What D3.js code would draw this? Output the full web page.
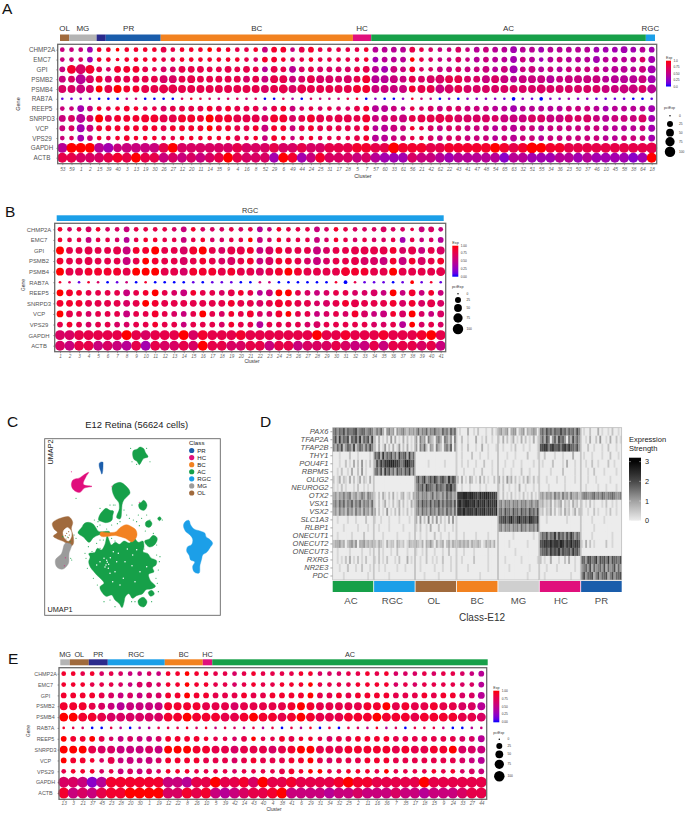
<!DOCTYPE html>
<html><head><meta charset="utf-8">
<script src="https://cdn.jsdelivr.net/npm/d3@7"></script>
<style>html,body{margin:0;padding:0;background:#fff}svg{display:block}text{font-family:"Liberation Sans",Arimo,Helvetica,sans-serif}</style>
</head><body>
<script>
// ---------- shared categories ----------
const genes = ["CHMP2A","EMC7","GPI","PSMB2","PSMB4","RAB7A","REEP5","SNRPD3","VCP","VPS29","GAPDH","ACTB"];
const classColors = {OL:"#a06a3c",MG:"#b4b4b4",PR:"#1a5dab",PRd:"#2a2a8c",BC:"#f28220",HC:"#e0107c",AC:"#17a049",RGC:"#1b9fe8"};
const pctTicks = [0,25,50,75,100];

// ---------- panel A (digit = expression in ninths; size digit = dot code) ----------
const aClusters = [53,59,1,2,15,39,40,3,13,19,30,26,27,12,20,11,14,35,9,4,16,8,52,29,6,49,44,24,25,31,17,28,5,7,57,60,33,61,56,21,42,62,22,43,41,47,48,54,65,63,32,51,55,34,36,23,50,37,46,10,45,58,38,64,18];
const aBands = [["OL",1],["MG",3],["PRd",1],["PR",6],["BC",21],["HC",2],["AC",30],["RGC",1]];
const aExp = [
"5 553 8898888 77888 98877 85885 78777 7 78 44447 76556 54544 34434 44443 33334 3",
"5 563 8888888 77888 88887 68886 78777 7 78 34449 76556 54544 35434 54443 44446 3",
"5 868 7688877 66777 77777 74774 67666 6 77 43558 66556 55545 35545 45555 44445 3",
"5 646 8677777 66777 77776 75775 67666 6 78 44557 66677 66565 45554 55555 44445 3",
"6 656 9798877 77777 77777 76776 77777 7 88 55558 77567 66666 66666 66666 55556 4",
"1 122 0004500 00687 65665 60063 06555 7 80 20028 54020 22221 02102 23221 11100 1",
"5 535 8788877 67777 87877 75785 67676 6 78 44547 66566 55544 34444 45554 34444 3",
"5 646 9788888 77888 98877 76886 78777 7 78 55657 77776 66665 55665 56665 45556 3",
"5 635 8888888 78888 98877 85885 78777 7 78 44558 76566 55545 45545 55555 44445 3",
"5 635 8788888 77888 88877 85885 78777 7 78 44557 76566 55545 45545 55555 44555 3",
"4 999 4355555 79666 66676 66766 76677 7 88 77988 87788 88898 78998 87777 77777 7",
"7 766 6787977 56565 67976 66398 35866 6 56 43336 55434 44442 44333 44343 33323 9"];
const aSize = [
"3 334 3323333 43333 33333 34443 44333 3 33 44444 33334 34444 54444 44444 44544 4",
"3 334 3323333 33333 33333 34433 33333 3 33 44443 33334 34444 54434 44445 44444 5",
"4 787 4355543 44555 44545 44545 44444 4 45 55544 33444 44545 64544 44444 45545 6",
"5 586 5555555 66565 55555 55665 56665 6 56 66655 56766 55666 56666 56666 56666 6",
"6 676 5665566 77666 66666 66676 76666 6 66 66665 66776 66666 66676 66666 66776 7",
"1 111 1111111 11111 11111 11111 11111 1 11 11111 11111 11111 21121 11111 11111 1",
"3 354 3334333 44444 44444 43444 33333 3 44 55433 34444 44444 54444 44444 44444 5",
"5 575 6555566 66665 66666 65665 56656 6 56 55565 66766 66656 66666 66565 55556 5",
"4 465 4444444 44444 44444 45444 44444 4 44 45543 34444 44444 54444 44444 44444 5",
"3 354 3334333 33333 33343 34433 33333 3 44 55443 34444 44444 54444 44444 44444 5",
"8 888 8878888 88888 88888 88888 88888 8 88 88988 88888 88888 88988 88888 88888 9",
"8 888 8888888 88888 88888 88888 88888 8 88 88888 88888 88888 88888 88888 88888 8"];

// ---------- panel B ----------
const bClusters = d3.range(1,42);
const bBands = [["RGC",41]];
const bExp = [
"86768 66577 77658 66676 74587 77568 76666 66756 5",
"87757 76478 87757 86677 95687 77568 76766 73756 4",
"97777 77588 97768 97677 85687 77567 77777 86757 6",
"87777 77579 87767 87667 85688 76567 77665 85867 8",
"97788 88799 97768 88787 76789 87777 88877 97777 7",
"86186 01508 00001 01110 05500 00008 07111 01918 1",
"98877 77578 97658 77678 74599 76567 76665 95858 5",
"88877 77679 87777 77787 76788 77667 87777 86867 6",
"97767 77577 87657 97687 86689 77567 68655 86965 6",
"78767 76677 87757 77687 74777 76677 77766 74967 6",
"66777 77976 77796 87778 77777 77977 87778 77789 7",
"65775 65473 76676 97766 77577 56667 65575 77767 5"];
const bSize = [
"33343 33433 33343 33333 34333 33433 33334 33244 3",
"33343 33433 33343 33333 34333 33433 33333 34333 4",
"65565 56655 65566 65566 55655 55655 56666 55655 6",
"55565 55655 55565 55565 55655 55655 56666 56565 5",
"66666 66666 66666 66666 66666 66666 76666 66666 7",
"11111 11111 11111 11111 11111 11111 21111 11211 1",
"55444 44544 54454 44454 44555 44444 44454 54544 4",
"55555 55555 55555 55555 55565 55455 56555 55556 5",
"55444 44544 54444 54444 54454 44444 45545 45544 5",
"44444 44444 44444 44444 45444 44544 44444 45444 4",
"88888 88888 88888 88888 88888 88888 88888 88888 8",
"88888 88888 88888 88888 88888 88888 88888 88888 8"];

// ---------- panel E ----------
const eClusters = [13,3,21,37,45,23,28,20,30,1,19,12,22,8,26,10,5,39,42,14,43,40,4,38,41,6,29,31,34,32,25,2,11,16,36,7,35,17,18,15,9,24,33,27,44];
const eBands = [["MG",1],["OL",2],["PRd",2],["RGC",6],["BC",4],["HC",1],["AC",29]];
const eExp = [
"88786 76556 58898 87767 87777 88666 77878 66676 77654",
"88877 76566 68898 87767 87788 89777 78888 67677 77664",
"88887 65656 68898 87778 77888 89778 78888 77787 88664",
"88876 54555 58888 77767 77778 98777 77889 78778 77664",
"99887 66666 68898 88778 98878 98777 88898 88788 88776",
"87600 74034 77786 85765 74707 48070 76584 60777 50045",
"98897 65655 68888 87767 97787 88767 78888 77777 77664",
"99976 65556 59998 87767 77678 99777 88888 78778 89665",
"98886 75555 68888 77767 87778 89767 77888 77777 77654",
"78886 75656 68887 77767 77778 89977 88879 77778 78665",
"66524 88888 85547 79778 69778 77778 98877 77797 77777",
"85657 88999 96687 85456 77895 55545 56555 65545 55677"];
const eSize = [
"33333 33333 33333 33333 33333 33333 33333 33333 33334",
"33333 33344 33333 33333 33333 33333 33333 33333 33334",
"44444 44444 44444 44444 44444 44444 44444 44444 44445",
"66655 56666 66666 66666 66666 66666 66666 66666 66666",
"77777 77777 77777 77777 77777 77777 77777 77777 77777",
"11111 11111 11111 11111 11111 11111 11111 11111 11111",
"44444 34444 44444 33334 33344 33344 44444 44444 44445",
"66666 66666 66666 66666 66666 66666 66666 66666 66666",
"44433 54545 44444 44444 44444 44444 44444 44444 44445",
"33333 34444 33333 33333 33344 33333 33333 33333 33344",
"99999 99999 99999 99999 99999 99999 99999 99999 99999",
"99999 99999 99999 99999 99999 99999 99999 99999 99999"];

// ---------- panel C: regions of the UMAP cloud, in read-off UMAP units ----------
const umapAC = [
 [[322,393],[328,408],[334,420],[346,412],[358,418],[372,408],[388,414],[403,400],[415,412],[428,408],[432,425],[429,440],[444,446],[452,458],[470,468],[468,480],[458,488],[462,500],[446,508],[450,525],[466,545],[452,552],[438,554],[428,566],[410,572],[398,580],[386,566],[376,575],[372,592],[366,608],[358,596],[345,585],[335,570],[318,574],[308,565],[300,545],[312,535],[303,522],[290,510],[280,498],[272,488],[266,470],[270,455],[266,447],[285,442],[292,430],[304,435],[314,420]],
 [[400,137],[412,132],[420,126],[432,132],[436,142],[444,156],[432,160],[426,167],[418,179],[410,168],[403,164],[398,150]],
 [[338,242],[350,234],[360,232],[378,243],[386,252],[390,264],[380,276],[372,284],[366,300],[365,316],[358,342],[352,340],[358,310],[356,292],[346,280],[340,268]],
 [[298,332],[308,318],[318,310],[330,316],[340,318],[338,332],[336,345],[316,353],[306,350],[296,346]],
 [[417,296],[424,292],[430,286],[441,300],[432,316],[420,312]],
 [[437,352],[448,346],[456,356],[448,367],[438,364]],
 [[473,340],[479,335],[484,341],[478,347]],
 [[434,408],[448,402],[460,391],[471,398],[463,420],[448,426],[438,418]],
 [[234,384],[246,366],[252,356],[265,352],[280,358],[286,366],[294,378],[330,383],[330,388],[296,390],[280,398],[268,412],[250,396]],
 [[414,588],[430,577],[441,590],[431,606],[418,601]],
 [[445,562],[455,556],[463,567],[452,574]]
];
const umapBC = [[[300,385],[330,383],[348,380],[360,368],[380,359],[396,366],[407,374],[411,390],[396,411],[376,400],[350,392],[300,388]]];
const umapOL = [[[157,355],[170,344],[183,339],[208,336],[218,352],[214,370],[220,396],[218,420],[206,426],[195,412],[172,402],[160,394],[172,382],[162,372]]];
const umapOLHole = [[[190,378],[204,368],[212,376],[214,395],[205,408],[193,398]]];
const umapMG = [[[198,414],[213,418],[207,446],[204,478],[186,493],[171,487],[166,466],[184,446]]];
const umapHC = [[[218,226],[240,218],[254,208],[266,202],[258,215],[250,238],[276,244],[252,250],[240,262],[222,256],[214,240]]];
const umapPR = [[[299,173],[308,171],[309,182],[305,207],[302,198],[298,186]]];
const umapRGC = [[[551,358],[558,348],[566,346],[572,360],[582,372],[600,378],[615,385],[618,395],[628,402],[638,415],[630,428],[620,442],[608,450],[605,462],[600,480],[596,505],[584,502],[578,485],[584,470],[572,465],[568,452],[560,438],[563,425],[574,420],[578,402],[572,392],[556,378]]];
const umapHoles = [[320,466],[322,472],[326,478],[315,486],[318,480],[331,458],[355,445],[382,432],[410,434],[345,500],[300,470],[396,482],[360,540],[420,500],[440,485],[375,470],[340,440],[330,505],[405,530],[350,470],[312,460],[325,490],[370,520],[398,450],[290,480],[338,530]];
const umapBrownSpecks = [[200,385],[196,392],[206,380],[205,398],[208,390],[198,402]];
const umapGreenSpecks = [[294,350],[283,345],[345,300],[340,300],[372,315],[380,330],[400,345],[410,350],[418,362],[300,405],[290,415],[310,405],[335,400],[345,408],[432,432],[470,450],[478,470],[468,520],[475,560],[395,590],[345,605],[330,585],[280,520],[262,490],[258,460],[265,425],[228,400],[222,390],[410,178],[396,170],[440,130],[396,300],[450,345],[436,378],[487,345],[420,555],[300,430],[276,440],[228,280],[215,465],[212,460],[292,365],[300,360],[320,372],[335,360],[352,356],[360,350],[388,340],[425,340],[415,330],[440,330],[460,385],[470,420],[480,455],[475,495],[472,535],[455,590],[405,590],[312,590],[292,540],[285,470],[255,445],[392,130],[450,170],[330,300],[300,310],[202,396],[210,410],[188,395]];
const umapPinkSpecks = [[418,292],[336,244],[196,458],[193,482],[214,200]];
const umapLegend = [["PR","PR"],["HC","HC"],["BC","BC"],["AC","AC"],["RGC","RGC"],["MG","MGu"],["OL","OL"]];

// ---------- panel D: digits are expression, ten levels; one block per class ----------
const dClasses = ["AC","RGC","OL","BC","MG","HC","PR"];
const dGenes = ["PAX6","TFAP2A","TFAP2B","THY1","POU4F1","RBPMS","OLIG2","NEUROG2","OTX2","VSX1","VSX2","SLC1A3","RLBP1","ONECUT1","ONECUT2","ONECUT3","RXRG","NR2E3","PDC"];
const dRows = [
"56465746556745664565 35463045340434532434 46354635464436453646 01000300102000100201 34234034402340323430 56475646557564656475 01002000301001020010",
"57384657265748365738 20301020403010302010 40534053204530542405 00200100030010200100 10302013010302010301 46375046375640537464 00103002040010300201",
"53647246537246536475 20301402030140203010 40536204305320453604 00100200010030010001 00100010200010010001 77885786675786866574 00020010001002000100",
"00010000200010000010 65738465746385673846 0 00100002000100010000 00001000100000200001 00200001000100003000 01000100001000200010",
"00010020103020401020 37586889998875699867 00000010000000100000 00100100010002000100 00010001000100000100 01000020000103000100 00100200100002001000",
"00102001030020401000 56473857463756475836 0 00010000100020000100 00100010000200010000 00000100000200000100 00010020000100000100",
"20130210302013021030 0 57468457586467548576 20301032010302010020 30204130201020310201 00010000100010000100 00010001000000100000",
"10102010001020010100 0 46574866547565476856 00100010000100100000 10200100103001000100 00001000000010000000 00100000100010000100",
"34243534523423542543 10203102030102301203 45354534635435364534 88899899887989998887 10201020101020102010 34243425342534253342 45544564546545565445",
"45364635463546354536 10201301020130201031 46475647465746465647 89789988979889798889 45354535453545345345 23121302123021203120 10102010001020010100",
"34253425342534253425 30201040102030102010 45364536453645364536 88797888797889788879 56475647564756475647 12021302012031201302 10010020100010200100",
"00100001000100002000 10010001000010000100 30402050304020103040 0 67786897689778698768 00010000000001000000 00000100000100000000",
"00000100000010000100 00100001000000100000 10200103000200100010 0 45354535453645354536 0 00000010000000000000",
"00100000010000020000 00001000000100000100 00100100020010001000 00010000010000010000 00000001000000000100 46574658475647586465 00000100000000010000",
"23342302342403342323 21321031220321201322 32130324203123023132 23232313223201323130 00000100000000100000 77887978879868797887 10302010000020010000",
"00100000100000100010 00201000100200001000 10010200010001002000 00010000100000010000 00000000100000000000 56675867685766758675 0",
"00101020301020102000 10201020001020003010 00100200101002000100 00100000200000010000 00010000000100000001 20100300010020300100 66477568476758476657",
"00010002000100200010 00100100000100010000 00100000010001000100 00000100000000010000 00000100000000010000 00010000100000000100 45647364564736457364",
"00000100000000000100 00000001000000000000 00001000000100000000 00000000000100000000 00000000000000100000 00100000000000010000 57466735746673574667"];
const dTicks = [0,1,2,3];

// ---------- drawing ----------
const svg = d3.select("body").append("svg").attr("width",685).attr("height",813);
const defs = svg.append("defs");
defs.append("filter").attr("id","soft").attr("x","-2%").attr("y","-2%").attr("width","104%").attr("height","104%")
  .append("feGaussianBlur").attr("stdDeviation",0.4);
const expColor = d3.scaleLinear().domain([0,1]).range(["#0000ff","#ff0000"]).interpolate(d3.interpolateLab);
const rScale = d3.scaleSqrt().domain([0,100]).range([0.8,5.5]);
const digits = s => s.replace(/ /g,"").split("").map(Number);
const letter = (t,x,y) => svg.append("text").attr("x",x).attr("y",y).attr("font-size",15.5).attr("fill","#111").text(t);

function dotPanel(c){
  const g = svg.append("g");
  const x = d3.scalePoint().domain(c.clusters).range(c.xr);
  const y = d3.scalePoint().domain(genes).range(c.yr);
  const band = d3.scaleBand().domain(c.clusters).range(c.bandX);
  let i = 0;
  c.bands.forEach(([name,n])=>{
    const x0 = band(c.clusters[i]), x1 = band(c.clusters[i+n-1])+band.bandwidth();
    g.append("rect").attr("x",x0).attr("y",c.bandY[0]).attr("width",x1-x0).attr("height",c.bandY[1]-c.bandY[0]).attr("fill",classColors[name]);
    i += n;
  });
  c.bandLabels.forEach(([name,first,n])=>{
    const x0 = band(c.clusters[first]), x1 = band(c.clusters[first+n-1])+band.bandwidth();
    g.append("text").attr("x",(x0+x1)/2).attr("y",c.bandLabelY).attr("text-anchor","middle").attr("font-size",c.bandFont).attr("fill","#333").text(name);
  });
  const cells = [];
  genes.forEach((gene,r)=>{
    const e = digits(c.exp[r]), s = digits(c.size[r]);
    c.clusters.forEach((cl,k)=>cells.push({gene,cl,exp:e[k]/9,pct:Math.pow(s[k]/9,2)*100}));
  });
  g.append("g").attr("filter","url(#soft)").selectAll("circle").data(cells).join("circle")
    .attr("cx",d=>x(d.cl)).attr("cy",d=>y(d.gene)).attr("r",d=>rScale(d.pct)).attr("fill",d=>expColor(d.exp));
  g.append("rect").attr("x",c.box[0]).attr("y",c.box[1]).attr("width",c.box[2]-c.box[0]).attr("height",c.box[3]-c.box[1])
    .attr("fill","none").attr("stroke","#6a6a6a").attr("stroke-width",1.3);
  const ax = g.append("g").attr("transform",`translate(${c.box[0]},0)`).call(d3.axisLeft(y).tickSize(1.5).tickPadding(1));
  ax.select(".domain").remove();
  ax.selectAll("line").attr("stroke","#555").attr("stroke-width",0.5);
  ax.selectAll("text").attr("text-anchor","middle").attr("x",c.geneX-c.box[0]).attr("font-size",c.geneFont).attr("font-family","Liberation Sans").attr("fill","#555");
  const bx = g.append("g").attr("transform",`translate(0,${c.box[3]})`).call(d3.axisBottom(x).tickSize(1.5).tickPadding(1));
  bx.select(".domain").remove();
  bx.selectAll("line").attr("stroke","#555").attr("stroke-width",0.5);
  bx.selectAll("text").attr("y",c.clusterY-c.box[3]).attr("dy",0).attr("font-style","italic").attr("font-size",c.clusterFont).attr("font-family","Liberation Sans").attr("fill","#666");
  g.append("text").attr("x",c.clusterTitle[0]).attr("y",c.clusterTitle[1]).attr("text-anchor","middle").attr("font-size",c.titleFont).attr("fill","#333").text("Cluster");
  g.append("text").attr("transform",`translate(${c.geneTitle[0]},${c.geneTitle[1]}) rotate(-90)`).attr("text-anchor","middle").attr("font-size",c.titleFont).attr("fill","#333").text("Gene");
  const id = "grad"+c.id;
  const grad = defs.append("linearGradient").attr("id",id).attr("x1",0).attr("y1",1).attr("x2",0).attr("y2",0);
  d3.range(0,1.01,0.1).forEach(t=>grad.append("stop").attr("offset",t).attr("stop-color",expColor(t)));
  const L = c.legend;
  const ly = d3.scaleLinear().domain([0,1]).range([L.bar[3],L.bar[2]]);
  g.append("text").attr("x",L.bar[0]).attr("y",L.bar[2]-2).attr("font-size",L.titleFont).attr("fill","#333").text("Exp");
  g.append("rect").attr("x",L.bar[0]).attr("y",L.bar[2]).attr("width",L.bar[1]-L.bar[0]).attr("height",L.bar[3]-L.bar[2]).attr("fill",`url(#${id})`);
  L.ticks.forEach((t,k)=>g.append("text").attr("x",L.bar[1]+2.4).attr("y",ly(t)+1).attr("font-size",L.font).attr("fill","#333").text(L.tickText[k]));
  g.append("text").attr("x",L.pctTitle[0]).attr("y",L.pctTitle[1]).attr("font-size",L.titleFont).attr("fill","#333").text("pctExp");
  pctTicks.forEach((p,k)=>{
    g.append("circle").attr("cx",L.cx).attr("cy",L.cy[k]).attr("r",rScale(p)*0.95).attr("fill","#000");
    g.append("text").attr("x",L.lx).attr("y",L.cy[k]+1).attr("font-size",L.font).attr("fill","#333").text(p);
  });
}

letter("A",2,14);
dotPanel({id:"A",clusters:aClusters,bands:aBands,exp:aExp,size:aSize,
  xr:[62.3,651.7],yr:[49.7,157.7],bandX:[60,655],bandY:[34.5,41],bandLabelY:31,bandFont:8,
  bandLabels:[["OL",0,1],["MG",1,3],["PR",4,7],["BC",11,21],["HC",32,2],["AC",34,30],["RGC",64,1]],
  box:[57.7,44.3,656.7,163.7],geneX:42,geneFont:6.3,clusterY:171,clusterFont:4.8,clusterTitle:[363,177.5],titleFont:5.5,geneTitle:[20,104],
  legend:{bar:[666,671,60.7,86.5],ticks:[1,.75,.5,.25,0],tickText:["1.0","0.75","0.50","0.25","0.0"],font:3.2,titleFont:3.6,pctTitle:[664,109],cx:670,cy:[115.7,124,132.7,141.7,151.7],lx:679}});

letter("B",5,217);
dotPanel({id:"B",clusters:bClusters,bands:bBands,exp:bExp,size:bSize,
  xr:[60,440.7],yr:[229.3,345.7],bandX:[56.7,443.7],bandY:[215.3,221],bandLabelY:213.3,bandFont:7.3,
  bandLabels:[["RGC",0,41]],
  box:[54.7,223.3,445.7,351.7],geneX:39,geneFont:5.9,clusterY:358.5,clusterFont:4.6,clusterTitle:[252,362.5],titleFont:4.8,geneTitle:[25,285],
  legend:{bar:[452.3,458.3,245.7,276.7],ticks:[1,.75,.5,.25,0],tickText:["1.00","0.75","0.50","0.25","0.00"],font:3.2,titleFont:3.8,pctTitle:[452,288],cx:458,cy:[293.7,300,308,318,329],lx:466.5}});

letter("E",8,664);
dotPanel({id:"E",clusters:eClusters,bands:eBands,exp:eExp,size:eSize,
  xr:[63.7,481.3],yr:[673.7,793],bandX:[60.3,487.7],bandY:[659.3,665.3],bandLabelY:656.5,bandFont:7.3,
  bandLabels:[["MG",0,1],["OL",1,2],["PR",3,2],["RGC",5,6],["BC",11,4],["HC",15,1],["AC",16,29]],
  box:[59,667.7,486.7,799.3],geneX:45.5,geneFont:5.4,clusterY:805.5,clusterFont:4.8,clusterTitle:[274,811],titleFont:4.8,geneTitle:[30,731],
  legend:{bar:[493.3,499.3,690.7,722.3],ticks:[1,.75,.5,.25,0],tickText:["1.00","0.75","0.50","0.25","0.00"],font:3.2,titleFont:3.6,pctTitle:[493.3,734],cx:499.3,cy:[739.3,746,754.3,764.3,776.3],lx:507.5}});

// panel C
letter("C",7,427);
const uG = svg.append("g");
const umapColors = {...classColors, MGu:"#9b9b9b"};
const ux = d3.scaleLinear().domain([134,661]).range([44.7,220.3]);
const uy = d3.scaleLinear().domain([631,101]).range([615.3,438.7]);
const uLine = d3.line().x(d=>ux(d[0])).y(d=>uy(d[1])).curve(d3.curveCatmullRomClosed.alpha(1));
uG.append("rect").attr("x",ux(134)).attr("y",uy(101)).attr("width",ux(661)-ux(134)).attr("height",uy(631)-uy(101)).attr("fill","#fff").attr("stroke","#666").attr("stroke-width",0.9);
const uMarks = uG.append("g").attr("filter","url(#soft)");
const region = (polys,col)=>uMarks.append("g").selectAll("path").data(polys).join("path").attr("d",uLine).attr("fill",col).attr("stroke",col).attr("stroke-width",0.4);
region(umapRGC,umapColors.RGC);
region(umapAC,umapColors.AC);
region(umapOL,umapColors.OL);
region(umapOLHole,"#fff");
region(umapMG,umapColors.MGu);
region(umapBC,umapColors.BC);
region(umapHC,umapColors.HC);
region(umapPR,umapColors.PR);
const speck = (pts,col,r)=>uMarks.append("g").selectAll("circle").data(pts).join("circle").attr("cx",d=>ux(d[0])).attr("cy",d=>uy(d[1])).attr("r",r).attr("fill",col);
speck(umapHoles,"#fff",0.75);
speck(umapBrownSpecks,umapColors.OL,0.6);
speck(umapGreenSpecks,umapColors.AC,0.55);
speck(umapPinkSpecks,umapColors.HC,0.5);
uG.append("text").attr("x",136.7).attr("y",427.5).attr("text-anchor","middle").attr("font-size",9.4).attr("fill","#222").text("E12 Retina (56624 cells)");
uG.append("text").attr("x",47.5).attr("y",611.7).attr("font-size",7.3).attr("fill","#222").text("UMAP1");
uG.append("text").attr("transform","translate(53,452) rotate(-90)").attr("text-anchor","middle").attr("font-size",7.3).attr("fill","#222").text("UMAP2");
uG.append("text").attr("x",189).attr("y",444.5).attr("font-size",6.2).attr("fill","#222").text("Class");
const legY = d3.scalePoint().domain(umapLegend.map(d=>d[0])).range([450.5,493]);
umapLegend.forEach(([n,k])=>{
  uG.append("circle").attr("cx",191.7).attr("cy",legY(n)).attr("r",2.6).attr("fill",umapColors[k]);
  uG.append("text").attr("x",197.3).attr("y",legY(n)+2.2).attr("font-size",6.1).attr("fill","#222").text(n);
});

// panel D
letter("D",260,427);
const dG = svg.append("g");
const dx = d3.scaleBand().domain(dClasses).range([332.7,621.7]).paddingInner(0.02);
const dy = d3.scaleBand().domain(dGenes).range([427.7,580]);
const heat = d3.scaleLinear().domain(dTicks).range(["#ececec","#a2a2a2","#484848","#050505"]);
const dColumn = d3.scaleBand().domain(d3.range(20)).range([0,dx.bandwidth()]);
dClasses.forEach((cl,ci)=>{
  const g = dG.append("g").attr("transform",`translate(${dx(cl)},0)`);
  const cellsG = g.append("g").attr("filter","url(#soft)");
  cellsG.append("rect").attr("y",dy.range()[0]).attr("width",dx.bandwidth()).attr("height",dy.range()[1]-dy.range()[0]).attr("fill",heat(0));
  dGenes.forEach((gene,r)=>{
    const vals = dRows[r].split(" ")[ci].padEnd(20,"0").split("").map(d=>+d/3.6);
    cellsG.append("g").selectAll("rect").data(vals).join("rect")
      .attr("x",(d,i)=>dColumn(i)).attr("y",dy(gene)).attr("width",dColumn.bandwidth()+0.05).attr("height",dy.bandwidth()).attr("fill",d=>heat(d));
  });
  g.append("rect").attr("y",dy.range()[0]).attr("width",dx.bandwidth()).attr("height",dy.range()[1]-dy.range()[0]).attr("fill","none").attr("stroke","#b5b5b5").attr("stroke-width",0.7);
  g.append("rect").attr("y",581).attr("width",dx.bandwidth()).attr("height",11).attr("fill",cl==="MG"?"#cfcfcf":classColors[cl]);
  g.append("text").attr("x",dx.bandwidth()/2-(ci<3?2:ci===5?-1:0)).attr("y",603.5).attr("text-anchor","middle").attr("font-size",9.6).attr("fill","#4d4d4d").text(cl);
});
const dAxis = dG.append("g").attr("transform","translate(332.4,0)").call(d3.axisLeft(dy).tickSize(2).tickPadding(2));
dAxis.select(".domain").remove();
dAxis.selectAll("line").attr("stroke","#555").attr("stroke-width",0.5);
dAxis.selectAll("text").attr("font-size",7.5).attr("font-style","italic").attr("font-family","Liberation Sans").attr("fill","#4d4d4d");
dG.append("text").attr("x",482).attr("y",620.5).attr("text-anchor","middle").attr("font-size",10).attr("fill","#333").text("Class-E12");
dG.append("text").attr("x",629).attr("y",441.5).attr("font-size",7.5).attr("fill","#222").text("Expression");
dG.append("text").attr("x",629).attr("y",450.5).attr("font-size",7.5).attr("fill","#222").text("Strength");
const hg = defs.append("linearGradient").attr("id","heatGrad").attr("x1",0).attr("y1",1).attr("x2",0).attr("y2",0);
const hScale = d3.scaleLinear().domain([0,3.2]).range([520.7,457.7]);
d3.range(0,3.21,0.2).forEach(v=>hg.append("stop").attr("offset",v/3.2).attr("stop-color",heat(Math.min(v,3))));
dG.append("rect").attr("x",629).attr("y",457.7).attr("width",12).attr("height",63).attr("fill","url(#heatGrad)");
dTicks.forEach(t=>{
  dG.append("line").attr("x1",629).attr("x2",631).attr("y1",hScale(t)).attr("y2",hScale(t)).attr("stroke","#fff").attr("stroke-width",0.4);
  dG.append("line").attr("x1",639).attr("x2",641).attr("y1",hScale(t)).attr("y2",hScale(t)).attr("stroke","#fff").attr("stroke-width",0.4);
  dG.append("text").attr("x",645).attr("y",hScale(t)+2.6).attr("font-size",7.3).attr("fill","#222").text(t);
});
</script>
</body></html>
